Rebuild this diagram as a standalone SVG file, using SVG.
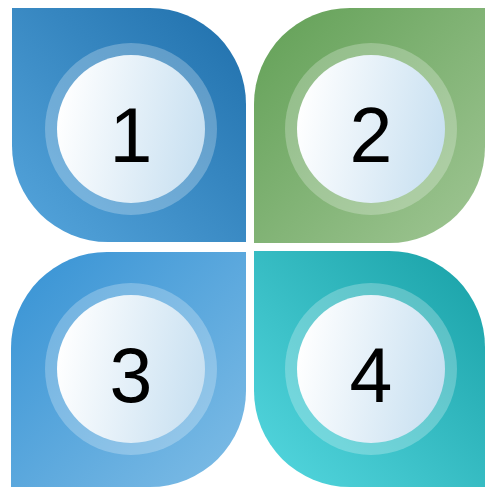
<svg xmlns="http://www.w3.org/2000/svg" width="486" height="487" viewBox="0 0 486 487">
<defs>
<linearGradient id="g1" x1="1" y1="0" x2="0" y2="1"><stop offset="0" stop-color="#1f6fab"/><stop offset="1" stop-color="#56a6dd"/></linearGradient>
<linearGradient id="g2" x1="0" y1="0" x2="1" y2="1"><stop offset="0" stop-color="#62a056"/><stop offset="1" stop-color="#a0c694"/></linearGradient>
<linearGradient id="g3" x1="0" y1="0" x2="1" y2="1"><stop offset="0" stop-color="#3692d4"/><stop offset="1" stop-color="#7fbde6"/></linearGradient>
<linearGradient id="g4" x1="1" y1="0" x2="0" y2="1"><stop offset="0" stop-color="#18a0a6"/><stop offset="1" stop-color="#55d8e0"/></linearGradient>
<linearGradient id="gc" x1="0" y1="0.4" x2="1" y2="0.6"><stop offset="0" stop-color="#ffffff"/><stop offset="1" stop-color="#c8e0f1"/></linearGradient>
</defs>
<style>
.ring{fill:#ffffff;fill-opacity:0.25}
.inner{fill:url(#gc)}
.num{font-family:"Liberation Sans",Arial,sans-serif;font-size:77px;fill:#000;text-anchor:middle}
</style>
<g id="node1">
<path d="M12,8 H150 A96,96 0 0 1 246,104 V242 H108 A96,96 0 0 1 12,146 Z" fill="url(#g1)"/>
<circle class="ring" cx="131" cy="129" r="86"/>
<circle class="inner" cx="131" cy="129" r="74"/>
<text class="num" x="131" y="162">1</text>
</g>
<g id="node2">
<path d="M254,104 A96,96 0 0 1 350,8 H485 V147 A96,96 0 0 1 389,243 H254 Z" fill="url(#g2)"/>
<circle class="ring" cx="371" cy="129" r="86"/>
<circle class="inner" cx="371" cy="129" r="74"/>
<text class="num" x="371" y="162">2</text>
</g>
<g id="node3">
<path d="M11,348 A96,96 0 0 1 107,252 H246 V391 A96,96 0 0 1 150,487 H11 Z" fill="url(#g3)"/>
<circle class="ring" cx="131" cy="369" r="86"/>
<circle class="inner" cx="131" cy="369" r="74"/>
<text class="num" x="131" y="402">3</text>
</g>
<g id="node4">
<path d="M254,251 H389 A96,96 0 0 1 485,347 V487 H350 A96,96 0 0 1 254,391 Z" fill="url(#g4)"/>
<circle class="ring" cx="371" cy="369" r="86"/>
<circle class="inner" cx="371" cy="369" r="74"/>
<text class="num" x="371" y="402">4</text>
</g>
<g id="connectors"/>
</svg>
